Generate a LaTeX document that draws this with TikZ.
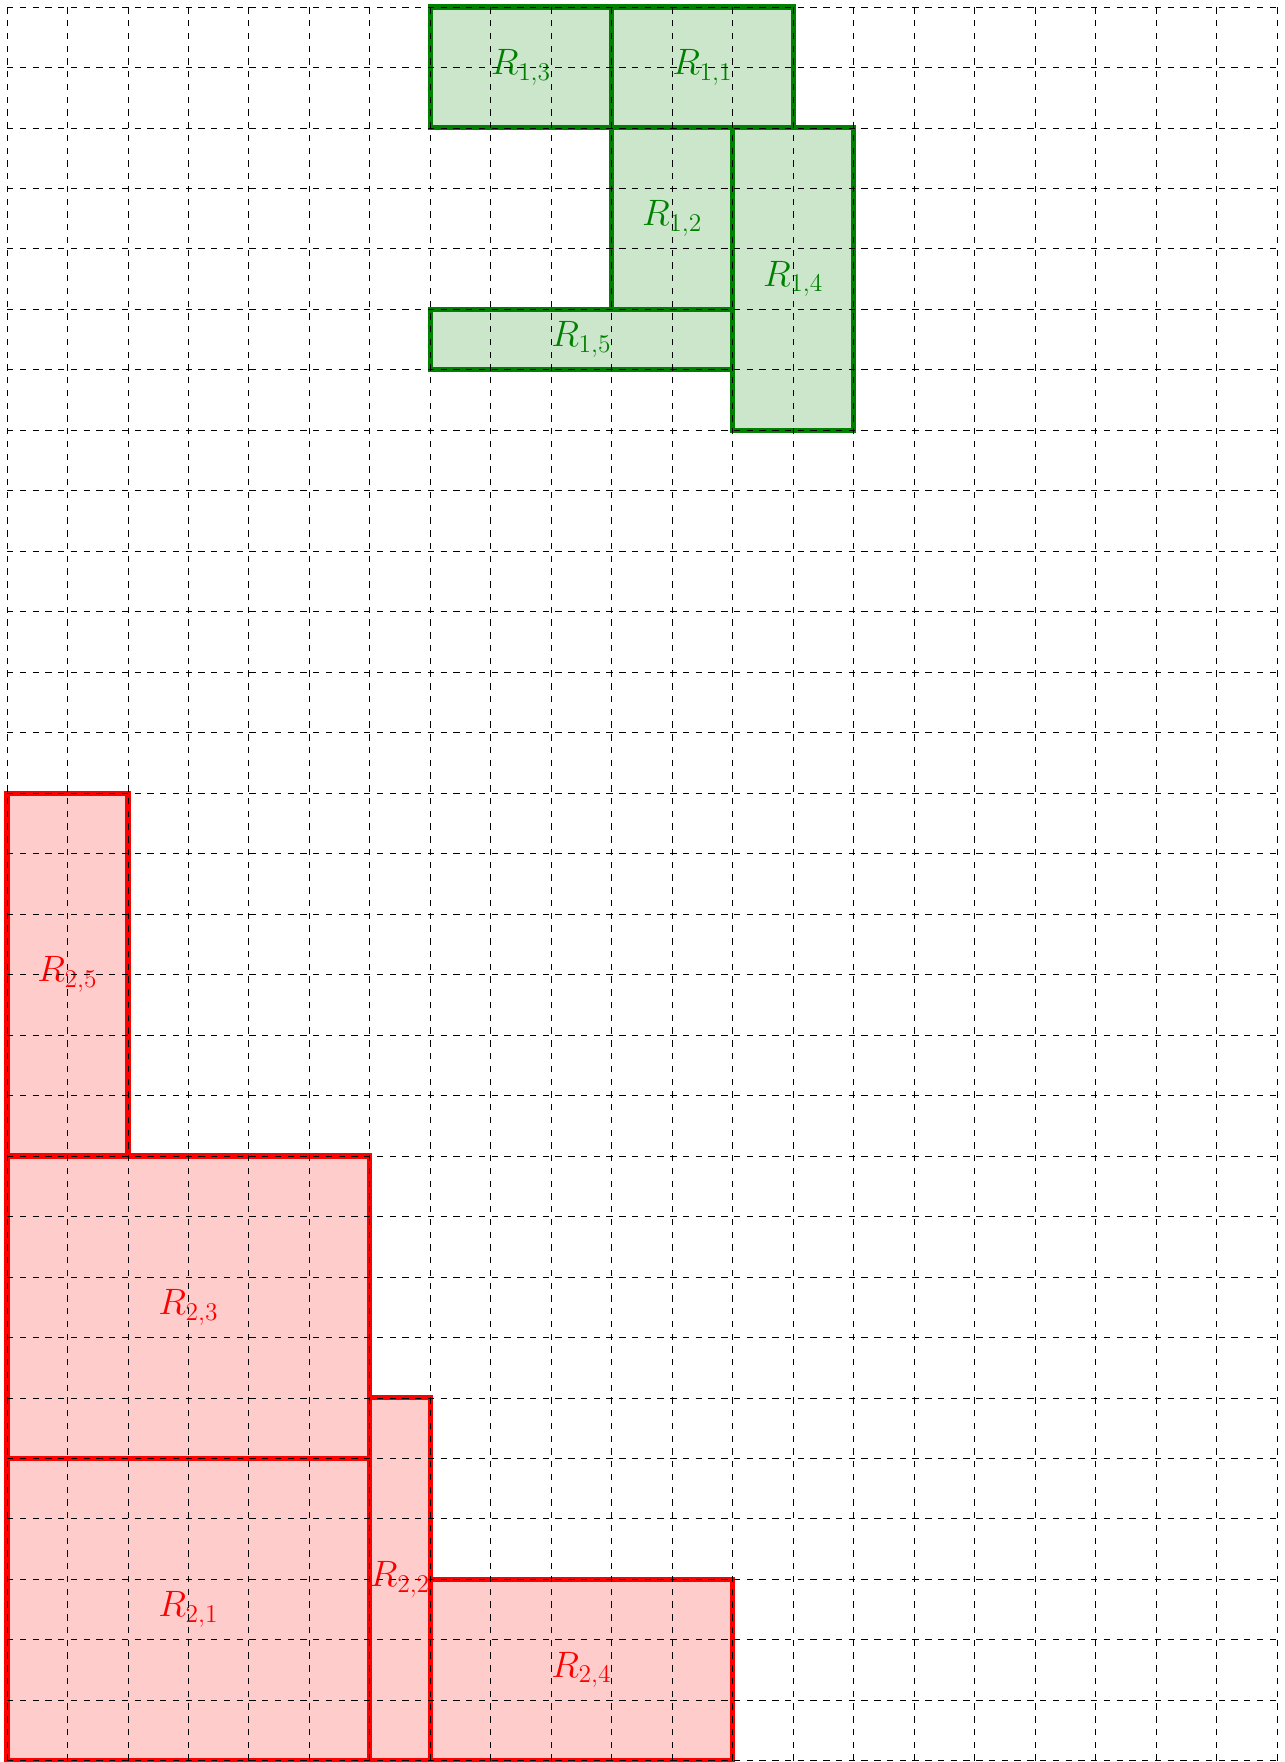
\documentclass[tikz,border=0pt]{standalone}
\usepackage{tikz}
\usetikzlibrary{positioning}
\definecolor{cOne}{RGB}{0,128,0}
\definecolor{cTwo}{RGB}{255,0,0}

\begin{document}
\begin{tikzpicture}[
  font=\LARGE,
  groupA/.style={rectangle, draw=cOne, line width=2.4pt, fill=cOne!20,
    text=cOne, inner sep=0pt},
  groupB/.style={rectangle, draw=cTwo, line width=2.4pt, fill=cTwo!20,
    text=cTwo, inner sep=0pt},
  gridline/.style={dashed, line width=0.4pt, draw=black},
]
\useasboundingbox (-0.116,-0.02) rectangle (21.116,29.116);
% first packing
\node[groupA, minimum width=3cm, minimum height=2cm] (r13) at (8.5,28) {$R_{1,3}$};
\node[groupA, minimum width=3cm, minimum height=2cm] (r11) at (11.5,28) {$R_{1,1}$};
\node[groupA, minimum width=2cm, minimum height=3cm] (r12) at (11,25.5) {$R_{1,2}$};
\node[groupA, minimum width=2cm, minimum height=5cm] (r14) at (13,24.5) {$R_{1,4}$};
\node[groupA, minimum width=5cm, minimum height=1cm] (r15) at (9.5,23.5) {$R_{1,5}$};
% second packing
\node[groupB, minimum width=2cm, minimum height=6cm] (r25) at (1,13) {$R_{2,5}$};
\node[groupB, minimum width=6cm, minimum height=5cm] (r23) at (3,7.5) {$R_{2,3}$};
\node[groupB, minimum width=6cm, minimum height=5cm] (r21) at (3,2.5) {$R_{2,1}$};
\node[groupB, minimum width=1cm, minimum height=6cm] (r22) at (6.5,3) {$R_{2,2}$};
\node[groupB, minimum width=5cm, minimum height=3cm] (r24) at (9.5,1.5) {$R_{2,4}$};
% grid on top
\draw[gridline] (0,0) grid (21,29);
\end{tikzpicture}
\end{document}
